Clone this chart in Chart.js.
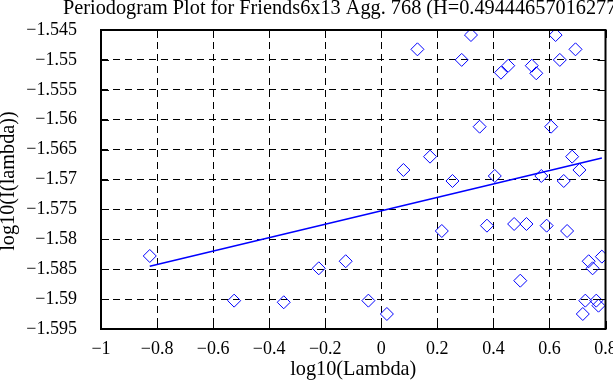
<!DOCTYPE html>
<html>
<head>
<meta charset="utf-8">
<script src="https://cdn.jsdelivr.net/npm/chart.js@4.4.0/dist/chart.umd.min.js"></script>
<style>
  html, body { margin: 0; padding: 0; background: #fff; }
  #wrap { width: 613px; height: 385px; }
</style>
</head>
<body>
<div id="wrap"><canvas id="chart"></canvas></div>
<script>
// periodogram points
const xVals = [0.129, 0.320, 0.287, 0.427, 0.453, 0.537, 0.553, 0.622, 0.637, 0.693,
  0.351, 0.606, 0.079, 0.174, 0.254, 0.405, 0.571, 0.681, 0.707, 0.651,
  0.216, 0.377, 0.474, 0.518, 0.590, 0.663, -0.127, 0.496, -0.046, 0.020,
  0.740, 0.754, 0.787, 0.728, 0.719, 0.767, 0.775, -0.826, -0.525, -0.348, -0.223];
const yVals = [-1.54823, -1.54584, -1.5500, -1.55214, -1.55097, -1.55097, -1.55224, -1.54584, -1.5500, -1.54823,
  -1.56117, -1.56117, -1.56841, -1.56618, -1.57025, -1.56941, -1.56941, -1.56618, -1.56841, -1.57025,
  -1.57861, -1.57772, -1.57744, -1.57744, -1.57772, -1.57861, -1.58367, -1.58692, -1.59026, -1.59249,
  -1.58367, -1.58485, -1.58290, -1.59026, -1.59249, -1.59026, -1.5911, -1.58279, -1.59026, -1.59053, -1.58485];

// fitted line ends
const fitX = [-0.826, 0.787];
const fitY = [-1.5845, -1.5664];

const xTicks = [-1, -0.8, -0.6, -0.4, -0.2, 0, 0.2, 0.4, 0.6, 0.8];
const yTicks = [-1.595, -1.59, -1.585, -1.58, -1.575, -1.57, -1.565, -1.56, -1.555, -1.55, -1.545];

const titleText = 'Periodogram Plot for Friends6x13 Agg. 768 (H=0.494446570162772)';
const xTitle = 'log10(Lambda)';
const yTitle = 'log10(I(lambda))';

const FONT = '"Liberation Serif", "DejaVu Serif", serif';

const fmt = v => String(+v.toFixed(3)).replace('-', '\u2212');

const extras = {
  id: 'extras',
  afterDraw(chart) {
    const ctx = chart.ctx;
    const a = chart.chartArea;
    const xs = chart.scales.x, ys = chart.scales.y;
    ctx.save();
    ctx.strokeStyle = '#000';
    ctx.lineWidth = 1;
    ctx.beginPath();
    xTicks.forEach(t => {
      const px = Math.round(xs.getPixelForValue(t)) + 0.5;
      ctx.moveTo(px, a.bottom); ctx.lineTo(px, a.bottom - 8);
      ctx.moveTo(px, a.top); ctx.lineTo(px, a.top + 8);
    });
    yTicks.forEach(t => {
      const py = Math.round(ys.getPixelForValue(t)) + 0.5;
      ctx.moveTo(a.left, py); ctx.lineTo(a.left + 8, py);
      ctx.moveTo(a.right, py); ctx.lineTo(a.right - 8, py);
    });
    ctx.stroke();
    ctx.lineWidth = 2;
    ctx.strokeRect(a.left, a.top, a.right - a.left, a.bottom - a.top);

    ctx.fillStyle = '#000';
    ctx.font = '20.3px ' + FONT;
    ctx.textBaseline = 'middle';
    ctx.textAlign = 'left';
    ctx.fillText(titleText, 63, 9);
    ctx.textAlign = 'center';
    ctx.fillText(xTitle, (a.left + a.right) / 2, 370);
    ctx.translate(9, 181);
    ctx.rotate(-Math.PI / 2);
    ctx.fillText(yTitle, 0, 0);
    ctx.restore();
  }
};

new Chart(document.getElementById('chart'), {
  type: 'scatter',
  data: {
    datasets: [
      {
        data: xVals.map((x, i) => ({ x: x, y: yVals[i] })),
        pointStyle: 'rectRot',
        radius: 6.5,
        hoverRadius: 6.5,
        borderWidth: 1,
        borderColor: '#0000ff',
        backgroundColor: 'rgba(0,0,0,0)'
      },
      {
        type: 'line',
        data: fitX.map((x, i) => ({ x: x, y: fitY[i] })),
        borderColor: '#0000ff',
        borderWidth: 1.5,
        pointRadius: 0,
        fill: false
      }
    ]
  },
  options: {
    responsive: true,
    maintainAspectRatio: false,
    animation: false,
    events: [],
    layout: { padding: { top: 30, right: 4, left: 0, bottom: 0 } },
    plugins: { legend: { display: false }, tooltip: { enabled: false }, title: { display: false } },
    scales: {
      x: {
        type: 'linear',
        min: -1, max: 0.8,
        afterBuildTicks: s => { s.ticks = xTicks.map(v => ({ value: v })); },
        afterFit: s => { s.height = 56; s.paddingLeft = 0; s.paddingRight = 0; },
        border: { display: false, dash: [7, 5] },
        grid: { color: '#000', lineWidth: 1, drawTicks: false },
        ticks: {
          autoSkip: false, maxRotation: 0, padding: 9, color: '#000',
          font: { family: FONT, size: 18 },
          callback: v => fmt(v)
        }
      },
      y: {
        type: 'linear',
        min: -1.595, max: -1.545,
        afterBuildTicks: s => { s.ticks = yTicks.map(v => ({ value: v })); },
        afterFit: s => { s.width = 101; s.paddingTop = 0; s.paddingBottom = 0; },
        border: { display: false, dash: [7, 5] },
        grid: { color: '#000', lineWidth: 1, drawTicks: false },
        ticks: {
          autoSkip: false, padding: 24, color: '#000',
          font: { family: FONT, size: 18 },
          callback: v => fmt(v)
        }
      }
    }
  },
  plugins: [extras]
});
</script>
</body>
</html>
